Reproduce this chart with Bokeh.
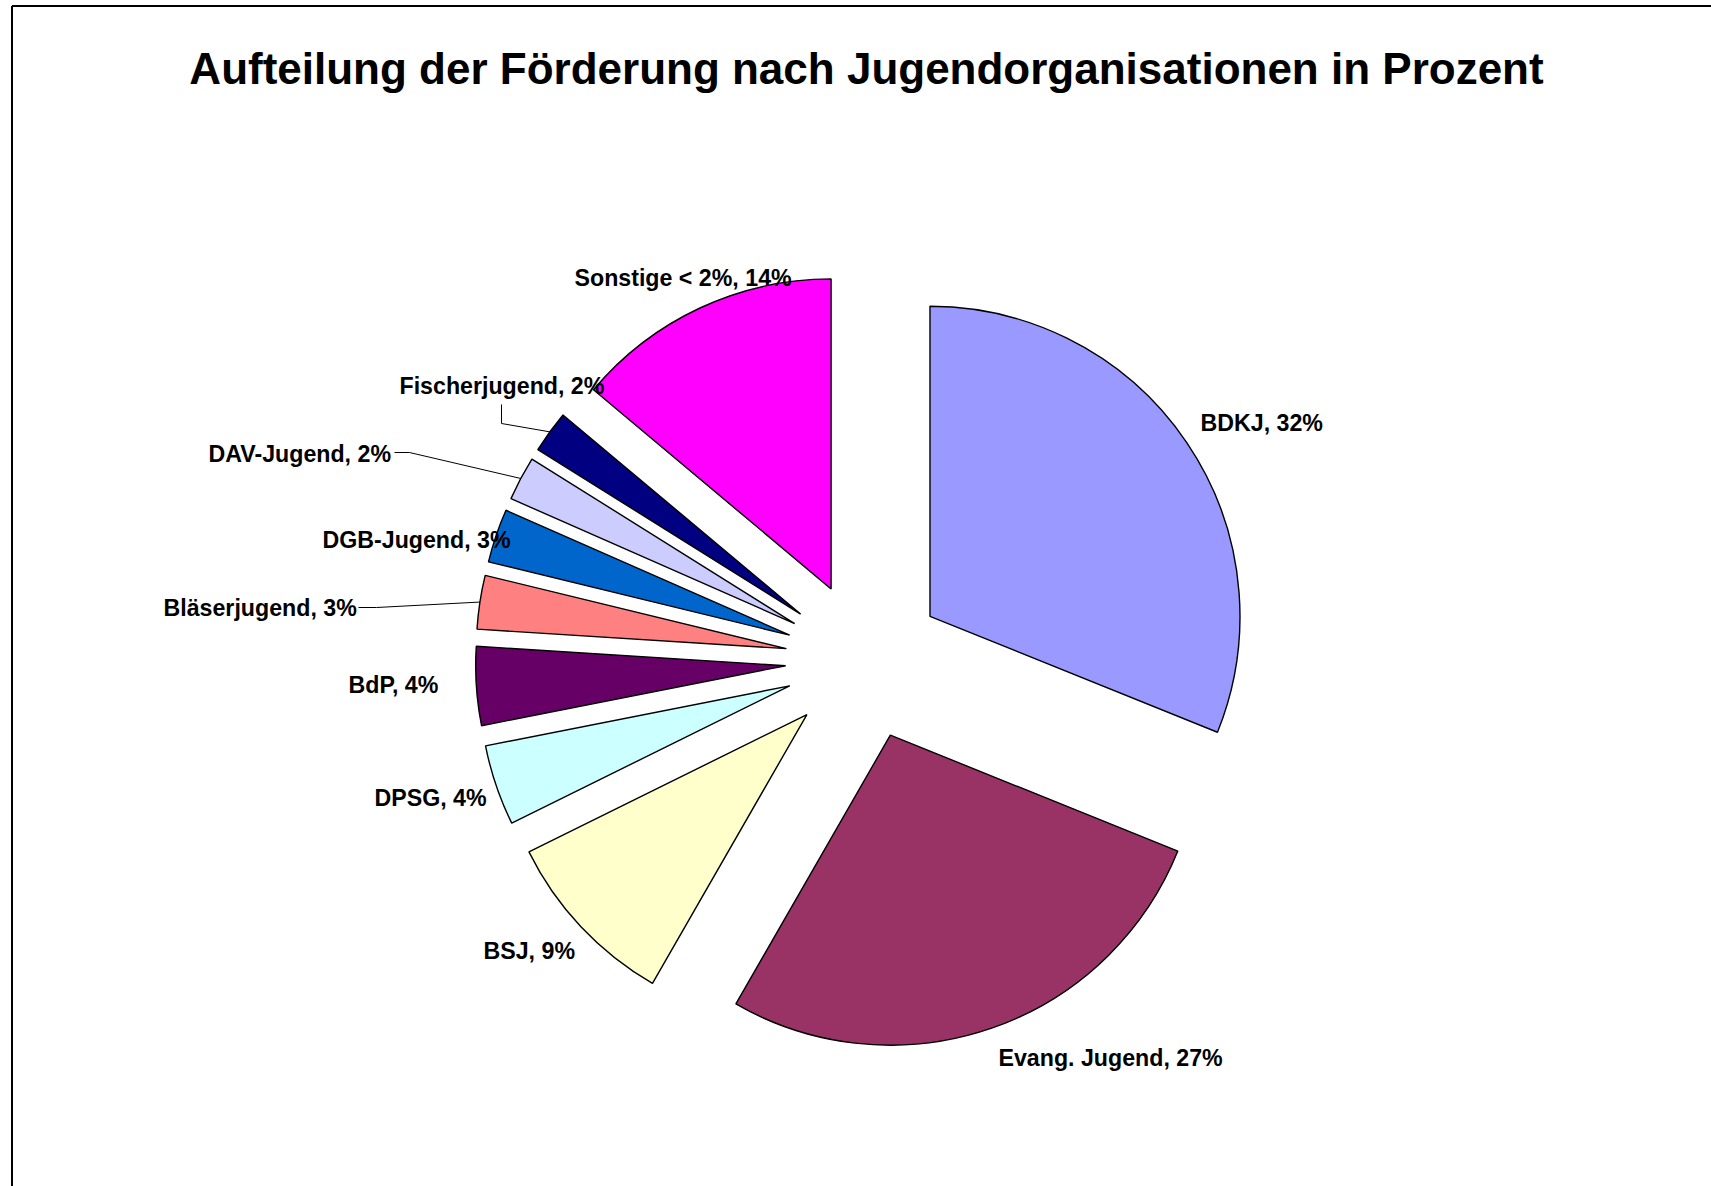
import numpy as np
from bokeh.plotting import figure
from bokeh.models import Range1d, ColumnDataSource
from bokeh.core.properties import value
from bokeh.embed import file_html
from bokeh.resources import INLINE

# ---------------- data ----------------
title_text = "Aufteilung der Förderung nach Jugendorganisationen in Prozent"
categories = ["BDKJ", "Evang. Jugend", "BSJ", "DPSG", "BdP", "Bläserjugend",
              "DGB-Jugend", "DAV-Jugend", "Fischerjugend", "Sonstige < 2%"]
shares = [31.1, 27.2, 9.4, 4.2, 4.1, 2.8, 2.8, 2.3, 2.2, 13.9]
pct_labels = ["32%", "27%", "9%", "4%", "4%", "3%", "3%", "2%", "2%", "14%"]
colors = ["#9999FF", "#993366", "#FFFFCC", "#CCFFFF", "#660066", "#FF8080",
          "#0066CC", "#CCCCFF", "#000080", "#FF00FF"]

# ---------------- layout ----------------
WIN_H = 1186
W, H = 1711, 1186
CX, CY = 864, 660          # pie centre (screen px)
R = 310                    # radius (px)
EXPLODE = 79               # explosion offset (px)
# label anchors (left x, centre y) in screen px
label_pos = [(1200, 422), (998, 1057), (483, 950), (374, 797), (348, 684),
             (163, 607), (322, 539), (208, 453), (399, 385), (574, 277)]
# leader line label-side points (screen px) for labels that were moved
leaders = {5: [(358, 607), (376, 607)],
           7: [(394, 452), (409, 452)],
           8: [(501, 404), (501, 423)]}

def sy(y):
    return WIN_H - y

p = figure(width=W, height=H, output_backend="svg", toolbar_location=None,
           x_range=Range1d(0, W), y_range=Range1d(WIN_H - H, WIN_H),
           x_axis_type=None, y_axis_type=None, min_border=0)
p.grid.visible = False
p.outline_line_color = None
p.background_fill_color = "white"
p.border_fill_color = "white"

vals = np.array(shares, dtype=float)
cum = np.concatenate([[0.0], np.cumsum(vals)]) / vals.sum()
a_start_cw = np.deg2rad(90 - cum[:-1] * 360)
a_end_cw = np.deg2rad(90 - cum[1:] * 360)
mid = (a_start_cw + a_end_cw) / 2
vx = CX + EXPLODE * np.cos(mid)
vy = sy(CY) + EXPLODE * np.sin(mid)

src = ColumnDataSource(dict(x=vx, y=vy, start=a_end_cw, end=a_start_cw, color=colors))
p.wedge(x="x", y="y", radius=R, start_angle="start", end_angle="end",
        direction="anticlock", fill_color="color", line_color="black",
        line_width=1.4, source=src)

# leader lines
for i, pts in leaders.items():
    ax = vx[i] + R * np.cos(mid[i])
    ay = vy[i] + R * np.sin(mid[i])
    xs = [q[0] for q in pts] + [ax]
    ys = [sy(q[1]) for q in pts] + [ay]
    p.line(xs, ys, line_color="black", line_width=1)

# labels
texts = [f"{c}, {pc}" for c, pc in zip(categories, pct_labels)]
lsrc = ColumnDataSource(dict(x=[q[0] for q in label_pos],
                             y=[sy(q[1]) for q in label_pos], t=texts))
p.text(x="x", y="y", text="t", source=lsrc, text_align="left",
       text_baseline="middle", text_font=value("Liberation Sans"),
       text_font_style="bold", text_font_size="23.2px", text_color="black")

# title
p.text(x=[866], y=[sy(68)], text=[title_text], text_align="center",
       text_baseline="middle", text_font=value("Liberation Sans"),
       text_font_style="bold", text_font_size="44px", text_color="black")

# chart-area frame (top and left edges visible)
p.segment(x0=[11.5, 11.5], y0=[sy(5.5), sy(5.5)], x1=[W, 11.5], y1=[sy(5.5), 0],
          line_color="black", line_width=2)

open("out.html", "w").write(file_html(p, INLINE))
